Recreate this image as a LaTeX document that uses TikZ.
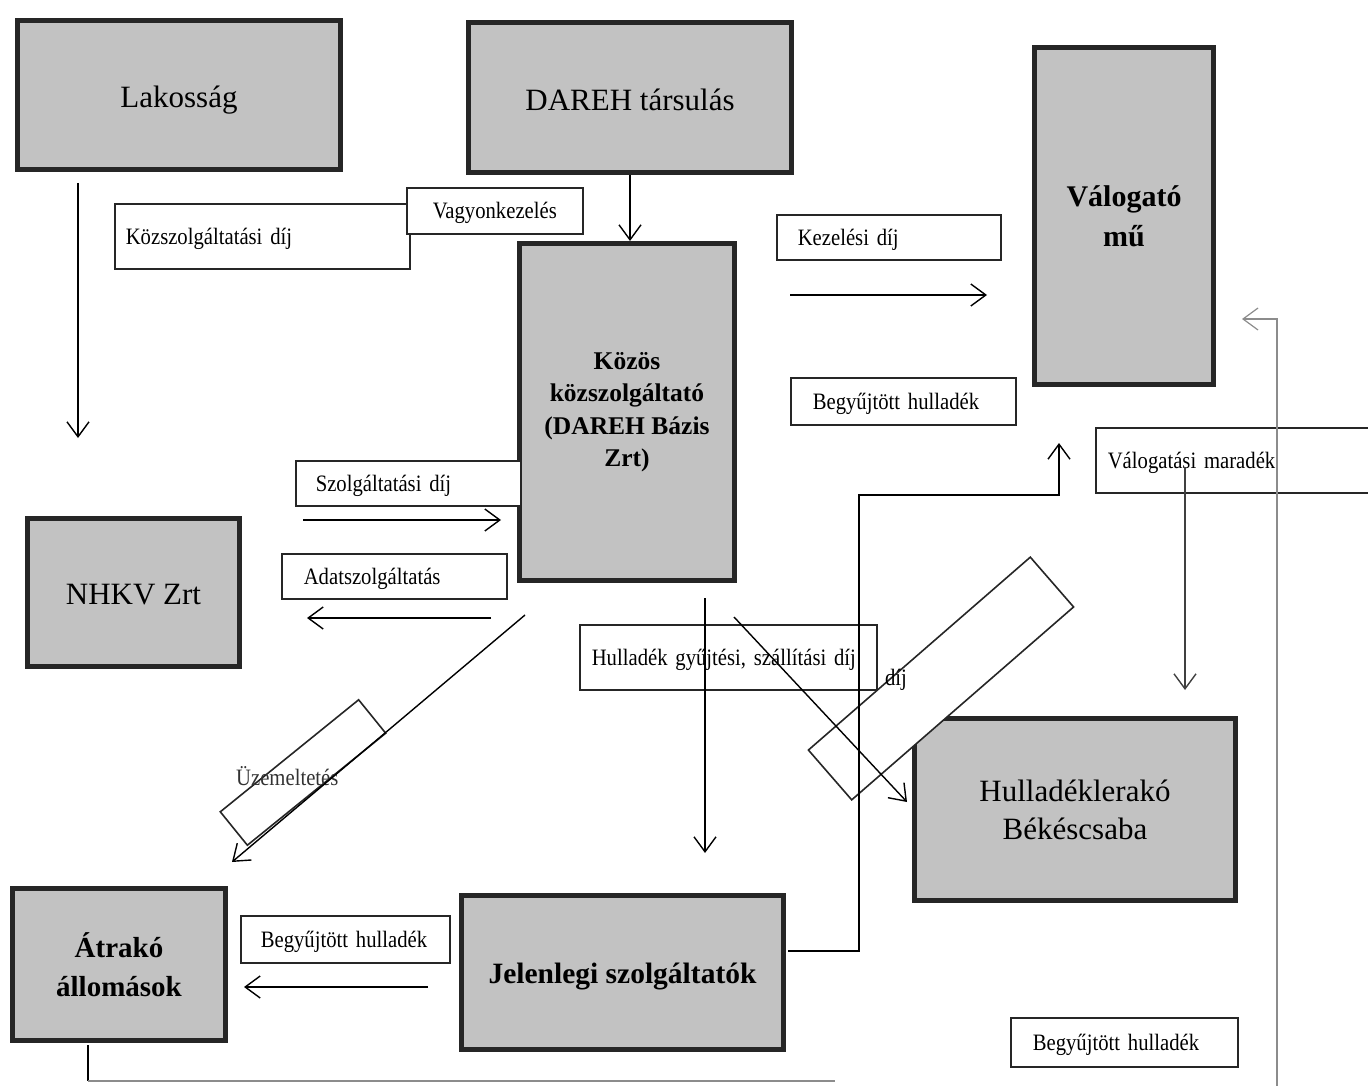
\documentclass[tikz,border=0pt]{standalone}
\usepackage{fontspec}
\setmainfont{Liberation Serif}
\newfontfamily\keskeny[FakeStretch=0.88]{Liberation Serif}
\usetikzlibrary{arrows.meta}

\definecolor{boxgray}{RGB}{194,194,194}
\definecolor{boxline}{RGB}{38,38,38}

\newcommand\betuNagy{\fontsize{31}{36}\selectfont}
\newcommand\betuKis{\keskeny\fontsize{23.5}{27}\selectfont}
\newcommand\lejjebb[2]{\raisebox{-#1}[\height][\depth]{#2}}

\tikzset{
  blok/.style={draw=boxline, fill=boxgray, line width=5pt, align=center, inner sep=0pt},
  cimke/.style={draw=black!85, fill=white, line width=1.6pt, anchor=north west,
    align=left, inner ysep=0pt, text depth=0pt, font=\betuKis},
  ferde/.style={draw=black!85, line width=1.6pt, inner sep=0pt},
  nyil/.style={-{Straight Barb[length=15pt,width=22pt]}, line width=1.4pt},
  halvany/.style={draw=black!45, line width=1.2pt},
}

\begin{document}
\begin{tikzpicture}[x=1pt,y=-1pt]
  \useasboundingbox (0,0) rectangle (1368,1086);

  %% szereplok
  \node[blok, minimum width=323pt, minimum height=149pt, font=\betuNagy] (lakos) at (179,95) {\lejjebb{5pt}{Lakosság}};
  \node[blok, minimum width=323pt, minimum height=150pt, font=\betuNagy] (dareh) at (630,97.5) {\lejjebb{2pt}{DAREH társulás}};
  \node[blok, minimum width=179pt, minimum height=337pt,
    font=\fontsize{30}{40}\selectfont\bfseries] (valog) at (1124,216) {Válogató\\mű};
  \node[blok, minimum width=215pt, minimum height=337pt,
    font=\fontsize{25.5}{32.5}\selectfont\bfseries] (kozos) at (627,412)
    {Közös\\közszolgáltató\\(DAREH Bázis\\Zrt)};
  \node[blok, minimum width=212pt, minimum height=148pt, font=\betuNagy] (nhkv) at (133.5,592.5) {\lejjebb{2pt}{NHKV Zrt}};
  \node[blok, minimum width=321pt, minimum height=182pt,
    font=\fontsize{31}{38}\selectfont] (lerako) at (1075,809.5) {Hulladéklerakó\\Békéscsaba};
  \node[blok, minimum width=213pt, minimum height=152pt,
    font=\fontsize{29}{39}\selectfont\bfseries] (atrako) at (119,964.5) {Átrakó\\állomások};
  \node[blok, minimum width=322pt, minimum height=154pt,
    font=\fontsize{29.5}{36}\selectfont\bfseries] (jelen) at (622.5,972.5) {\lejjebb{4pt}{Jelenlegi szolgáltatók}};

  %% cimkek
  \node[cimke, inner xsep=11pt, text width=273pt, minimum height=65pt] (kozdij) at (114,203) {Közszolgáltatási díj};
  \node[cimke, inner xsep=8pt, text width=160pt, minimum height=46pt, align=center] (vagyon) at (406,187) {Vagyonkezelés};
  \node[cimke, inner xsep=21pt, text width=182pt, minimum height=45pt] (kezdij) at (776,214) {Kezelési díj};
  \node[cimke, inner xsep=22pt, text width=181pt, minimum height=47pt] (begy1) at (790,377) {Begyűjtött hulladék};
  \node[cimke, inner xsep=12pt, text width=276pt, minimum height=65pt] (valmar) at (1095,427) {Válogatási maradék};
  \node[cimke, inner xsep=20pt, text width=185pt, minimum height=45pt] (szoldij) at (295,460) {Szolgáltatási díj};
  \node[cimke, inner xsep=22pt, text width=181pt, minimum height=45pt] (adat) at (281,553) {Adatszolgáltatás};
  \node[cimke, inner xsep=12pt, text width=273pt, minimum height=65pt] (hulldij) at (579,624) {Hulladék gyűjtési, szállítási díj};
  \node[cimke, inner xsep=20pt, text width=169pt, minimum height=47pt] (begy2) at (240,915) {Begyűjtött hulladék};
  \node[cimke, inner xsep=22pt, text width=183pt, minimum height=49pt] (begy3) at (1010,1017) {Begyűjtött hulladék};

  %% ferde dobozok
  \node[ferde, minimum width=178pt, minimum height=43pt, rotate=39] (uzembox) at (303,772.5) {};
  \begin{scope}
    \clip (0,0) rectangle (341,1086);
    \node[font=\betuKis, text=black!80, anchor=west, inner sep=0pt] (uzem) at (236,776) {Üzemeltetés};
  \end{scope}
  \node[ferde, fill=white, minimum width=294pt, minimum height=66pt, rotate=41] (dijbox) at (941,678.5) {};
  \node[font=\betuKis, inner sep=0pt] (dij) at (896,680) {díj};

  %% nyilak vegpontjai
  \coordinate (lak-ki) at (78,183);   \coordinate (lak-be) at (78,438);
  \coordinate (kez-ki) at (790,295);  \coordinate (kez-be) at (987,295);
  \coordinate (szo-ki) at (303,520);  \coordinate (szo-be) at (501,520);
  \coordinate (ada-ki) at (491,618);  \coordinate (ada-be) at (307,618);
  \coordinate (uze-ki) at (525,615);  \coordinate (uze-be) at (232,862);
  \coordinate (gyu-ki) at (705,598);  \coordinate (gyu-be) at (705,853);
  \coordinate (ler-ki) at (734,617);  \coordinate (ler-be) at (907,802);
  \coordinate (jel-ki) at (788,951);  \coordinate (jel-be) at (1059,443);
  \coordinate (mar-ki) at (1185,467); \coordinate (mar-be) at (1185,690);
  \coordinate (atr-ki) at (88,1045);  \coordinate (atr-le) at (88,1081);
  \coordinate (atr-vege) at (835,1081);
  \coordinate (vis-ki) at (1277,1086); \coordinate (vis-be) at (1242,319);
  \coordinate (beg-ki) at (428,987);  \coordinate (beg-be) at (244,987);

  %% folyamok
  \draw[nyil] (lak-ki) -- (lak-be);
  \draw[nyil] (dareh.south) -- (dareh.south |- kozos.north);
  \draw[nyil] (kez-ki) -- (kez-be);
  \draw[nyil] (szo-ki) -- (szo-be);
  \draw[nyil] (ada-ki) -- (ada-be);
  \draw[nyil] (uze-ki) -- (uze-be);
  \draw[nyil] (gyu-ki) -- (gyu-be);
  \draw[nyil] (ler-ki) -- (ler-be);
  \draw[nyil] (jel-ki) -| (859,495) -| (jel-be);
  \draw[nyil, black!75] (mar-ki) -- (mar-be);
  \draw[nyil] (beg-ki) -- (beg-be);
  \draw[line width=1.4pt] (atr-ki) -- (atr-le);
  \draw[halvany] (atr-le) -- (atr-vege);
  \draw[halvany, -{Straight Barb[length=15pt,width=22pt]}] (vis-ki) |- (vis-be);

\end{tikzpicture}
\end{document}
